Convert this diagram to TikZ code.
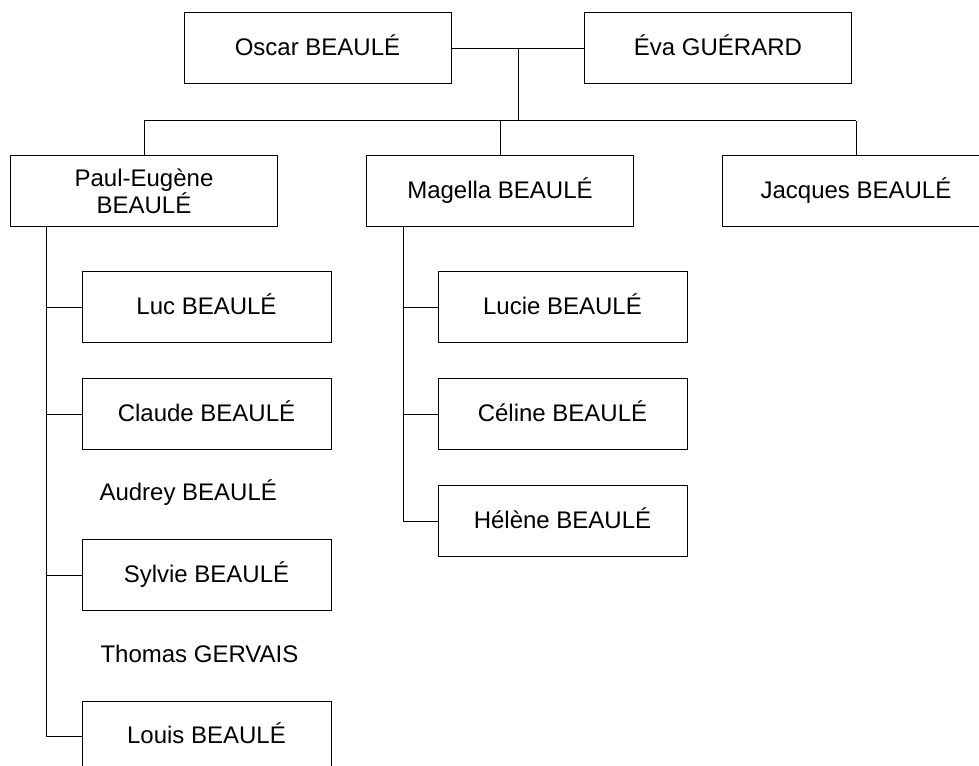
\documentclass[tikz,border=0pt]{standalone}
\usepackage{fontspec}
\setmainfont{Liberation Sans}

\begin{document}
\begin{tikzpicture}[x=0.75pt,y=-0.75pt,line width=0.75pt,
        every node/.style={font=\fontsize{18}{18.2}\selectfont},
        personbox/.style={rectangle,draw,minimum width=200.25pt,minimum height=53.25pt,align=center},
        kidbox/.style={rectangle,draw,minimum width=186.75pt,minimum height=53.25pt,text height=13pt,text depth=3pt}]
    \useasboundingbox (0,0) rectangle (979,766);
    \clip (0,0) rectangle (979,766);
    \node at (317.5,48.5) [personbox,text height=13pt,text depth=3pt] (oscar) {Oscar BEAULÉ};
    \node at (718,48.5) [personbox,text height=13pt,text depth=3pt] (eva) {Éva GUÉRARD};
    \coordinate (couple) at (518,48.5);
    \coordinate (bar) at (518,121);
    \draw (oscar) -- (eva);
    \draw (couple) -- (bar);
    \node at (144,191.5) [personbox] (paul) {Paul-Eugène\\BEAULÉ};
    \node at (500,191.5) [personbox,text height=13pt,text depth=3pt] (magella) {Magella BEAULÉ};
    \node at (856,191.5) [personbox,text height=13pt,text depth=3pt] (jacques) {Jacques BEAULÉ};
    \foreach \n in {paul,magella,jacques}
        \draw (\n.north) -- (\n.north |- bar);
    \draw (paul.north |- bar) -- (jacques.north |- bar);
    % enfants de Paul-Eugène
    \coordinate (pstem) at (46,227);
    \foreach \n/\y/\t in {luc/307.5/Luc BEAULÉ,claude/414.5/Claude BEAULÉ,sylvie/575.5/Sylvie BEAULÉ,louis/736.5/Louis BEAULÉ} {
        \node at (206.5,\y) [kidbox] (\n) {\t};
        \draw (\n.west) -- (\n.west -| pstem);
    }
    \draw (pstem) -- (pstem |- louis.west);
    \node at (99,493) [anchor=west,inner sep=0pt] (audrey) {Audrey BEAULÉ};
    \node at (100,654) [anchor=west,inner sep=0pt] (thomas) {Thomas GERVAIS};
    % enfants de Magella
    \coordinate (mstem) at (403,227);
    \foreach \n/\y/\t in {lucie/307.5/Lucie BEAULÉ,celine/414.5/Céline BEAULÉ,helene/521.5/Hélène BEAULÉ} {
        \node at (562.5,\y) [kidbox] (\n) {\t};
        \draw (\n.west) -- (\n.west -| mstem);
    }
    \draw (mstem) -- (mstem |- helene.west);
\end{tikzpicture}
\end{document}
